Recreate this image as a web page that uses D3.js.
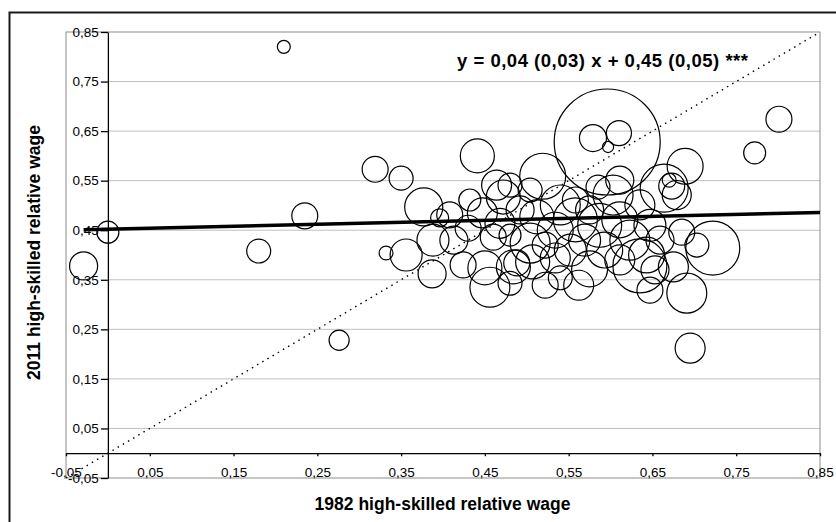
<!DOCTYPE html>
<html>
<head>
<meta charset="utf-8">
<script src="https://cdn.jsdelivr.net/npm/d3@7"></script>
<style>
  body { margin: 0; background: #fff; }
  svg { display: block; font-family: "Liberation Sans", Arial, sans-serif; }
  .tick text { font-size: 13.5px; font-family: "Liberation Sans", Arial, sans-serif; }
</style>
</head>
<body>
<svg class="main"></svg>
<script>
// 1982 relative wage (x), 2011 relative wage (y), bubble weight
let wage1982 = [
    0.210,-0.029,0.000,0.180,0.235,0.276,0.319,0.350,0.377,0.332,
    0.356,0.388,0.387,0.413,0.441,0.464,0.424,0.456,0.450,0.430,
    0.447,0.472,0.468,0.484,0.460,0.596,0.579,0.610,0.597,0.689,
    0.670,0.673,0.679,0.664,0.519,0.504,0.480,0.585,0.603,0.722,
    0.703,0.685,0.691,0.695,0.562,0.575,0.635,0.643,0.534,0.504,
    0.488,0.480,0.512,0.801,0.772,0.675,0.507,0.534,0.558,0.540,
    0.569,0.587,0.611,0.623,0.647,0.659,0.635,0.558,0.575,0.552,
    0.593,0.611,0.653,0.522,0.540,0.408,0.432,0.492,0.522,0.611,
    0.480,0.647,0.396
]
let wage2011 = [
    0.820,0.378,0.446,0.408,0.479,0.228,0.573,0.555,0.497,0.404,
    0.400,0.430,0.362,0.430,0.600,0.541,0.380,0.335,0.374,0.454,
    0.485,0.517,0.464,0.376,0.436,0.628,0.636,0.646,0.618,0.579,
    0.551,0.539,0.521,0.535,0.559,0.531,0.541,0.537,0.521,0.414,
    0.420,0.446,0.323,0.212,0.339,0.372,0.378,0.400,0.394,0.424,
    0.384,0.343,0.477,0.674,0.606,0.376,0.386,0.450,0.471,0.501,
    0.430,0.460,0.471,0.430,0.460,0.430,0.501,0.511,0.491,0.410,
    0.410,0.390,0.370,0.339,0.354,0.481,0.511,0.491,0.420,0.551,
    0.440,0.329,0.475
]
let weight = [
    1.5,7.0,4.3,5.1,6.0,3.6,6.0,5.1,12.9,1.7,
    9.1,9.1,7.0,7.0,10.3,8.0,6.0,14.2,10.3,6.0,
    8.0,10.3,8.0,10.3,6.0,100,6.5,5.6,1.1,11.5,
    1.7,6.0,7.5,20.5,18.8,5.1,5.1,5.1,14.2,25.9,
    5.1,6.0,14.2,8.0,8.0,11.5,25.9,11.5,8.0,14.2,
    6.0,5.1,10.3,6.0,4.3,8.0,10.3,11.5,17.2,14.2,
    9.1,17.2,11.5,14.2,9.1,7.0,8.0,6.0,7.0,9.1,
    11.5,8.0,7.0,6.0,5.1,6.0,4.3,7.0,6.0,7.0,
    4.3,6.0,2.9
]
let tickVals = [-0.05,0.05,0.15,0.25,0.35,0.45,0.55,0.65,0.75,0.85]
let slope = 0.04, intercept = 0.452
let equation = 'y = 0,04 (0,03) x + 0,45 (0,05) ***'

let drawChart = ()=>{

    let w = 836, h = 522
    let left = 66, right = 820, top = 32, bottom = 478

    let svg = d3.select('.main')
        .attr('width', w)
        .attr('height', h)

    let fmt = d3.formatLocale({decimal: ',', thousands: ' ', grouping: [3], currency: ['', ''], minus: '-'}).format('.2f')

    let x = d3.scaleLinear().domain([-0.05, 0.85]).range([left, right])
    let y = d3.scaleLinear().domain([-0.05, 0.85]).range([bottom, top])
    let r = d3.scaleSqrt().domain([0, 100]).range([0, 53])

    // outer chart frame
    svg.append('rect')
        .attr('x', 9.5).attr('y', 12.5)
        .attr('width', 900).attr('height', 600)
        .attr('fill', '#fff')
        .attr('stroke', '#1a1a1a')
        .attr('stroke-width', 2)

    // grid
    svg.append('g').selectAll('line')
        .data(tickVals.slice(1, -1))
        .enter().append('line')
        .attr('x1', x(0)).attr('x2', right)
        .attr('y1', d=>y(d)).attr('y2', d=>y(d))
        .attr('stroke', '#c0c0c0')

    // plot area border
    svg.append('rect')
        .attr('x', left).attr('y', top)
        .attr('width', right-left).attr('height', bottom-top)
        .attr('fill', 'none')
        .attr('stroke', '#8c8c8c')

    let xAxis = svg.append('g')
        .attr('transform', `translate(0,${y(0)})`)
        .call(d3.axisBottom(x).tickValues(tickVals).tickFormat(fmt).tickSizeInner(3).tickSizeOuter(0).tickPadding(11.5))
    let yAxis = svg.append('g')
        .attr('transform', `translate(${x(0)},0)`)
        .call(d3.axisLeft(y).tickValues(tickVals).tickFormat(fmt).tickSizeInner(7).tickSizeOuter(0).tickPadding(2))

    ;[xAxis, yAxis].forEach(a=>{
        a.attr('font-size', 13.5).attr('font-family', null)
        a.selectAll('path,line').attr('stroke', '#000').attr('stroke-width', 1.3)
        a.selectAll('text').attr('fill', '#000')
    })

    // 45 degree line
    svg.append('line')
        .attr('x1', x(-0.05)).attr('y1', y(-0.05))
        .attr('x2', x(0.85)).attr('y2', y(0.85))
        .attr('stroke', '#000')
        .attr('stroke-width', 1.4)
        .attr('stroke-dasharray', '1.5,4.5')

    // bubbles
    svg.append('g').selectAll('circle')
        .data(wage1982.map((v,i)=>({x: v, y: wage2011[i], w: weight[i]})))
        .enter().append('circle')
        .attr('cx', d=>x(d.x))
        .attr('cy', d=>y(d.y))
        .attr('r', d=>r(d.w))
        .attr('fill', 'none')
        .attr('stroke', '#000')
        .attr('stroke-width', 1.2)

    // trend line
    let x0 = d3.min(wage1982)
    svg.append('line')
        .attr('x1', x(x0)).attr('y1', y(intercept + slope*x0))
        .attr('x2', x(0.85)).attr('y2', y(intercept + slope*0.85))
        .attr('stroke', '#000')
        .attr('stroke-width', 3.5)

    svg.append('text')
        .attr('x', 457).attr('y', 67)
        .attr('font-size', 18.5).attr('font-weight', 'bold')
        .attr('textLength', 291).attr('lengthAdjust', 'spacing')
        .text(equation)

    svg.append('text')
        .attr('x', 442.5).attr('y', 510)
        .attr('text-anchor', 'middle')
        .attr('font-size', 17.5).attr('font-weight', 'bold')
        .text('1982 high-skilled relative wage')

    svg.append('text')
        .attr('transform', 'translate(40,252.5) rotate(-90)')
        .attr('text-anchor', 'middle')
        .attr('font-size', 17.5).attr('font-weight', 'bold')
        .text('2011 high-skilled relative wage')
}

drawChart()
</script>
</body>
</html>
